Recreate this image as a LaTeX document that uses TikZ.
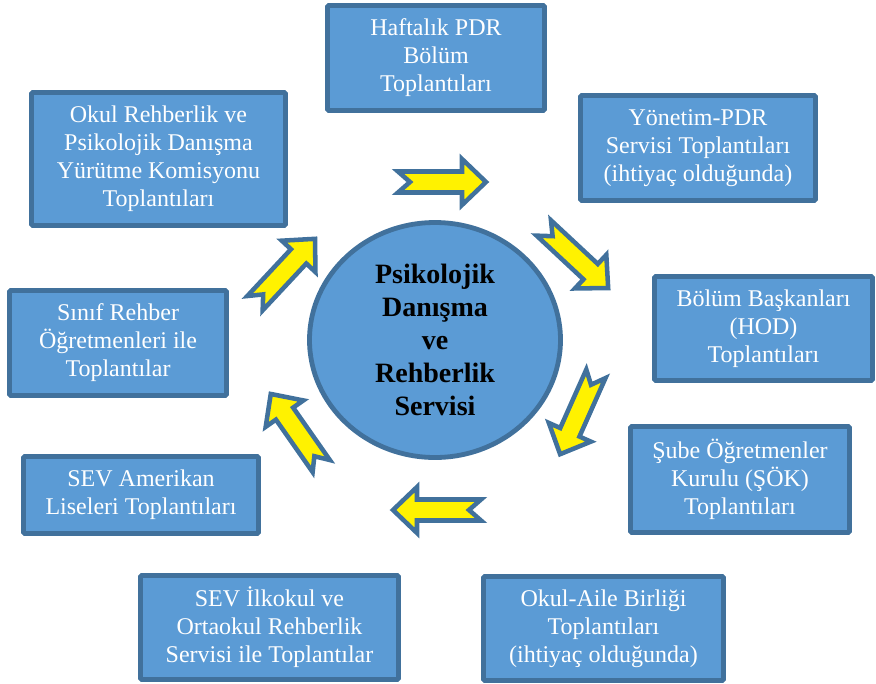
\documentclass[tikz,border=0pt]{standalone}
\usepackage{fontspec}
\setmainfont{Liberation Serif}
\usepackage{xcolor}
\usetikzlibrary{shapes.geometric}
\definecolor{boxblue}{HTML}{5B9BD5}
\definecolor{edgeblue}{HTML}{41719C}
\tikzset{
    meeting/.style={draw=edgeblue, line width=3.6pt, fill=boxblue, text=white, align=center, rounded corners=1pt, inner sep=2pt, minimum height=78pt, font=\fontsize{18}{21}\selectfont, execute at begin node={\rule{0pt}{22pt}}},
    service/.style={ellipse, draw=edgeblue, line width=3.6pt, fill=boxblue, align=center, inner sep=0pt, font=\bfseries\fontsize{21}{24.75}\selectfont},
    pics/flowarrow/.style={code={
        \draw[draw=edgeblue, line width=3.4pt, fill=yellow, line join=miter]
            (-44,10.5) -- (20,10.5) -- (20,23) -- (44,0) -- (20,-23) -- (20,-10.5) -- (-44,-10.5) -- (-32,0) -- cycle;
    }}
}

\begin{document}
\begin{tikzpicture}[x=0.75pt, y=-0.75pt]
    \useasboundingbox (0,0) rectangle (876,683);
    % centre
    \node[service, minimum width=188.25pt, minimum height=176.25pt] (pdr) at (435,340) {Psikolojik\\Danışma\\ve\\Rehberlik\\Servisi};
    % meetings, clockwise from the top
    \node[meeting, minimum width=162.75pt, minimum height=78.75pt] (haftalik) at (436,58) {Haftalık PDR\\Bölüm\\Toplantıları};
    \node[meeting, minimum width=176.25pt, minimum height=78.75pt] (yonetim) at (698,148) {Yönetim-PDR\\Servisi Toplantıları\\(ihtiyaç olduğunda)};
    \node[meeting, minimum width=163.5pt] (hod) at (763.5,328.5) {Bölüm Başkanları\\(HOD)\\Toplantıları};
    \node[meeting, minimum width=164.25pt, minimum height=79.5pt] (sok) at (740,479.5) {Şube Öğretmenler\\Kurulu (ŞÖK)\\Toplantıları};
    \node[meeting, minimum width=180pt] (veli) at (603.5,628.5) {Okul-Aile Birliği\\Toplantıları\\(ihtiyaç olduğunda)};
    \node[meeting, minimum width=193.5pt] (ilkokul) at (269.5,627.5) {SEV İlkokul ve\\Ortaokul Rehberlik\\Servisi ile Toplantılar};
    \node[meeting, minimum width=176.25pt, minimum height=57.75pt] (lise) at (141,495) {SEV Amerikan\\Liseleri Toplantıları};
    \node[meeting, minimum width=162.75pt, minimum height=78.75pt] (sinif) at (118,343) {Sınıf Rehber\\Öğretmenleri ile\\Toplantılar};
    \node[meeting, minimum width=190.5pt, minimum height=99.75pt] (komisyon) at (158.5,159) {Okul Rehberlik ve\\Psikolojik Danışma\\Yürütme Komisyonu\\Toplantıları};
    % yellow arrows round the circle
    \pic[rotate=0] at (442,182) {flowarrow};
    \pic[rotate=-43] at (576,258) {flowarrow};
    \pic[rotate=-114] at (578,414) {flowarrow};
    \pic[rotate=180] at (437,510) {flowarrow};
    \pic[rotate=125] at (296,430) {flowarrow};
    \pic[rotate=47] at (285,271) {flowarrow};
\end{tikzpicture}
\end{document}
